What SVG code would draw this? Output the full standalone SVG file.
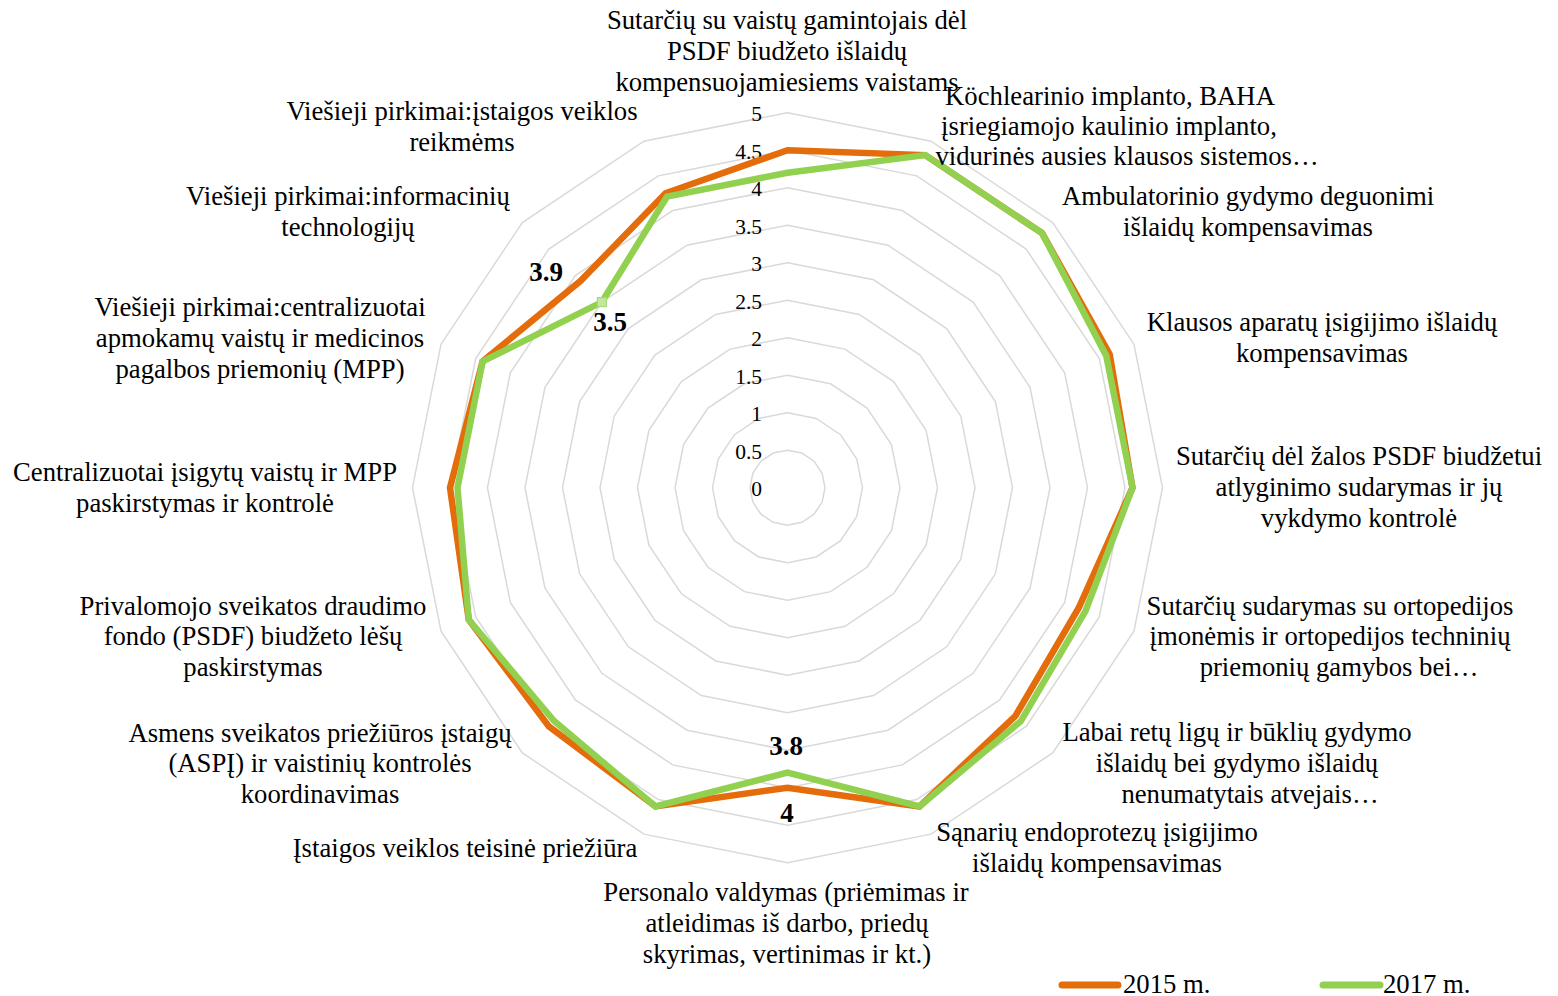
<svg xmlns="http://www.w3.org/2000/svg" xmlns:xlink="http://www.w3.org/1999/xlink" width="1558" height="996" viewBox="0 0 1558 996">
<style>
text{font-family:"Liberation Serif","Times New Roman",serif;fill:#000}
.cat{font-size:26.7px;text-anchor:middle}
.ax{font-size:21.5px;text-anchor:end}
.dl{font-size:27px;font-weight:bold;text-anchor:middle}
.lg{font-size:26.7px}
.ring{fill:none;stroke:#D9D9D9}
.s15{fill:none;stroke:#E46C0A;stroke-width:6.5;stroke-linejoin:miter}
.s17{fill:none;stroke:#92D050;stroke-width:6.5;stroke-linejoin:miter}
</style>
<defs>
<polygon id="ring" class="ring" points="0,-37.5 14.351,-34.646 26.517,-26.517 34.646,-14.351 37.5,0 34.646,14.351 26.517,26.517 14.351,34.646 0,37.5 -14.351,34.646 -26.517,26.517 -34.646,14.351 -37.5,0 -34.646,-14.351 -26.517,-26.517 -14.351,-34.646"/>
</defs>
<rect width="1558" height="996" fill="#fff"/>
<g id="grid">
<use xlink:href="#ring" transform="translate(787.5,487.7) scale(1)" stroke-width="1.5"/>
<use xlink:href="#ring" transform="translate(787.5,487.7) scale(2)" stroke-width="0.75"/>
<use xlink:href="#ring" transform="translate(787.5,487.7) scale(3)" stroke-width="0.5"/>
<use xlink:href="#ring" transform="translate(787.5,487.7) scale(4)" stroke-width="0.375"/>
<use xlink:href="#ring" transform="translate(787.5,487.7) scale(5)" stroke-width="0.3"/>
<use xlink:href="#ring" transform="translate(787.5,487.7) scale(6)" stroke-width="0.25"/>
<use xlink:href="#ring" transform="translate(787.5,487.7) scale(7)" stroke-width="0.2143"/>
<use xlink:href="#ring" transform="translate(787.5,487.7) scale(8)" stroke-width="0.1875"/>
<use xlink:href="#ring" transform="translate(787.5,487.7) scale(9)" stroke-width="0.1667"/>
<use xlink:href="#ring" transform="translate(787.5,487.7) scale(10)" stroke-width="0.15"/>
</g>
<g id="axis-labels">
<text class="ax" x="762" y="121">5</text>
<text class="ax" x="762" y="158.5">4.5</text>
<text class="ax" x="762" y="196">4</text>
<text class="ax" x="762" y="233.5">3.5</text>
<text class="ax" x="762" y="271">3</text>
<text class="ax" x="762" y="308.5">2.5</text>
<text class="ax" x="762" y="346">2</text>
<text class="ax" x="762" y="383.5">1.5</text>
<text class="ax" x="762" y="421">1</text>
<text class="ax" x="762" y="458.5">0.5</text>
<text class="ax" x="762" y="496">0</text>
</g>
<g id="connectors">
<polygon id="series-2015" class="s15" points="787.5,150.2 925.26,155.1 1042.06,233.14 1109.7,354.24 1132.5,487.7 1078.52,608.24 1015.54,715.74 919.52,806.44 787.5,787.7 655.48,806.44 548.85,726.35 468.76,619.72 450,487.7 482.62,361.42 580.67,280.87 665.52,193.21"/>
<polygon id="series-2017" class="s17" points="787.5,172.7 925.26,155.1 1042.06,233.14 1106.24,355.68 1132.5,487.7 1085.45,611.11 1020.85,721.05 919.52,806.44 787.5,772.7 655.48,806.44 554.15,721.05 468.76,619.72 457.5,487.7 482.62,361.42 601.88,302.08 666.96,196.68"/>
<rect x="597.4" y="297.6" width="9" height="9" fill="#C4E6A0" stroke="#A9DA78" stroke-width="1.2"/>
</g>
<g id="data-labels">
<text class="dl" x="546" y="281">3.9</text>
<text class="dl" x="610" y="331">3.5</text>
<text class="dl" x="786" y="755">3.8</text>
<text class="dl" x="787" y="822">4</text>
</g>
<g id="cat-0">
<text class="cat" x="787" y="29">Sutarčių su vaistų gamintojais dėl</text>
<text class="cat" x="787" y="60">PSDF biudžeto išlaidų</text>
<text class="cat" x="787" y="91">kompensuojamiesiems vaistams</text>
</g>
<g id="cat-1">
<text class="cat" x="1110" y="105">Köchlearinio implanto, BAHA</text>
<text class="cat" x="1109" y="135">įsriegiamojo kaulinio implanto,</text>
<text class="cat" x="1127" y="165">vidurinės ausies klausos sistemos…</text>
</g>
<g id="cat-2">
<text class="cat" x="1248" y="205">Ambulatorinio gydymo deguonimi</text>
<text class="cat" x="1248" y="236">išlaidų kompensavimas</text>
</g>
<g id="cat-3">
<text class="cat" x="1322" y="331">Klausos aparatų įsigijimo išlaidų</text>
<text class="cat" x="1322" y="362">kompensavimas</text>
</g>
<g id="cat-4">
<text class="cat" x="1359" y="465">Sutarčių dėl žalos PSDF biudžetui</text>
<text class="cat" x="1359" y="496">atlyginimo sudarymas ir jų</text>
<text class="cat" x="1359" y="527">vykdymo kontrolė</text>
</g>
<g id="cat-5">
<text class="cat" x="1330" y="615">Sutarčių sudarymas su ortopedijos</text>
<text class="cat" x="1330" y="645">įmonėmis ir ortopedijos techninių</text>
<text class="cat" x="1339" y="676">priemonių gamybos bei…</text>
</g>
<g id="cat-6">
<text class="cat" x="1237" y="741">Labai retų ligų ir būklių gydymo</text>
<text class="cat" x="1237" y="772">išlaidų bei gydymo išlaidų</text>
<text class="cat" x="1250" y="803">nenumatytais atvejais…</text>
</g>
<g id="cat-7">
<text class="cat" x="1097" y="841">Sąnarių endoprotezų įsigijimo</text>
<text class="cat" x="1097" y="872">išlaidų kompensavimas</text>
</g>
<g id="cat-8">
<text class="cat" x="786" y="901">Personalo valdymas (priėmimas ir</text>
<text class="cat" x="787" y="932">atleidimas iš darbo, priedų</text>
<text class="cat" x="787" y="963">skyrimas, vertinimas ir kt.)</text>
</g>
<g id="cat-9">
<text class="cat" x="465" y="857">Įstaigos veiklos teisinė priežiūra</text>
</g>
<g id="cat-10">
<text class="cat" x="320" y="742">Asmens sveikatos priežiūros įstaigų</text>
<text class="cat" x="320" y="772">(ASPĮ) ir vaistinių kontrolės</text>
<text class="cat" x="320" y="803">koordinavimas</text>
</g>
<g id="cat-11">
<text class="cat" x="253" y="615">Privalomojo sveikatos draudimo</text>
<text class="cat" x="253" y="645">fondo (PSDF) biudžeto lėšų</text>
<text class="cat" x="253" y="676">paskirstymas</text>
</g>
<g id="cat-12">
<text class="cat" x="205" y="481">Centralizuotai įsigytų vaistų ir MPP</text>
<text class="cat" x="205" y="512">paskirstymas ir kontrolė</text>
</g>
<g id="cat-13">
<text class="cat" x="260" y="316">Viešieji pirkimai:centralizuotai</text>
<text class="cat" x="260" y="347">apmokamų vaistų ir medicinos</text>
<text class="cat" x="260" y="378">pagalbos priemonių (MPP)</text>
</g>
<g id="cat-14">
<text class="cat" x="348" y="205">Viešieji pirkimai:informacinių</text>
<text class="cat" x="348" y="236">technologijų</text>
</g>
<g id="cat-15">
<text class="cat" x="462" y="120">Viešieji pirkimai:įstaigos veiklos</text>
<text class="cat" x="462" y="151">reikmėms</text>
</g>
<g id="legend">
<line x1="1062" y1="985" x2="1118" y2="985" stroke="#E46C0A" stroke-width="7" stroke-linecap="round"/>
<text class="lg" x="1123" y="993">2015 m.</text>
<line x1="1323" y1="985" x2="1380" y2="985" stroke="#92D050" stroke-width="7" stroke-linecap="round"/>
<text class="lg" x="1383" y="993">2017 m.</text>
</g>
</svg>
